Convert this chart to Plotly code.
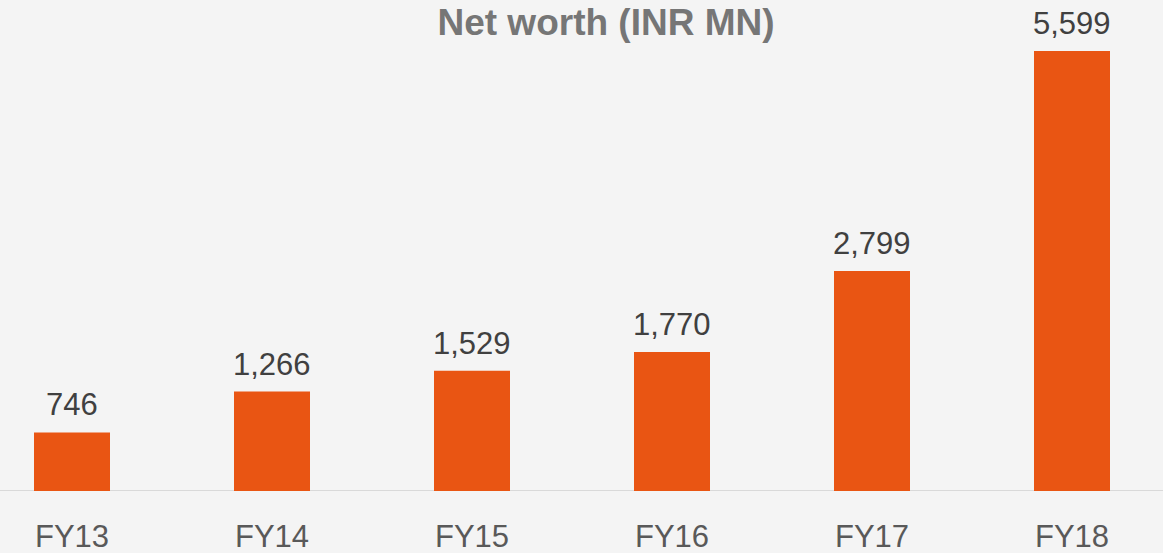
import plotly.graph_objects as go

categories = ["FY13", "FY14", "FY15", "FY16", "FY17", "FY18"]
net_worth = [746, 1266, 1529, 1770, 2799, 5599]

fig = go.Figure()
fig.add_trace(go.Bar(
    x=list(range(len(categories))),
    y=net_worth,
    marker=dict(color="#E95513", line=dict(width=0)),
    width=0.38,
    hoverinfo="skip",
))

for i, v in enumerate(net_worth):
    fig.add_annotation(
        x=i, y=v, text=f"{v:,}", showarrow=False,
        yanchor="bottom", yshift=8,
        font=dict(family="Liberation Sans, Arial, sans-serif", size=31, color="#404040"),
    )

fig.update_layout(
    width=1163, height=553,
    margin=dict(l=0, r=0, t=0, b=62),
    paper_bgcolor="#f4f4f4",
    plot_bgcolor="rgba(0,0,0,0)",
    showlegend=False,
    title=dict(
        text="<b>Net worth (INR MN)</b>",
        x=606 / 1163, xanchor="center",
        y=1 - 22 / 553, yanchor="middle",
        font=dict(family="Liberation Sans, Arial, sans-serif", size=37, color="#767676"),
    ),
    xaxis=dict(
        range=[-0.36, 5.455],
        tickmode="array",
        tickvals=list(range(len(categories))),
        ticktext=categories,
        showgrid=False, zeroline=False,
        showline=False,
        ticks="",
        tickfont=dict(family="Liberation Sans, Arial, sans-serif", size=31, color="#595959"),
        ticklabelstandoff=24,
    ),
    yaxis=dict(
        range=[0, 6248],
        visible=False,
        showgrid=False,
        zeroline=False,
    ),
)
fig.add_shape(type="line", xref="paper", yref="y", x0=0, x1=1, y0=0, y1=0,
              line=dict(color="#d9d9d9", width=2), layer="below")

fig.write_html("out.html", config={"displayModeBar": False},
               post_script="document.body.style.margin='0';document.body.style.background='#f4f4f4';")
